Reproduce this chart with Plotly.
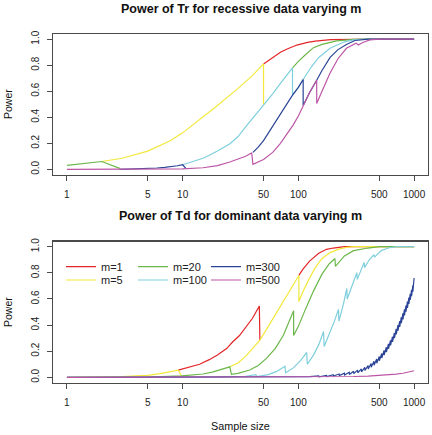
import plotly.graph_objects as go

# ---------------- data ----------------
legend_names = ["m=1", "m=5", "m=20", "m=100", "m=300", "m=500"]
line_colors = ["#E2262A", "#F3E83A", "#6CB74A", "#7ECFDC", "#2B4497", "#BD56A6"]

tick_vals_x = [1, 5, 10, 50, 100, 500, 1000]
tick_text_x = ["1", "5", "10", "50", "100", "500", "1000"]
tick_vals_y = [0.0, 0.2, 0.4, 0.6, 0.8, 1.0]
tick_text_y = ["0.0", "0.2", "0.4", "0.6", "0.8", "1.0"]

# Top panel: power of Tr, recessive data
tr_m1_x = [50, 60, 70, 80, 97, 120, 140, 190, 300, 500, 1000]
tr_m1_y = [0.81, 0.86, 0.90, 0.925, 0.955, 0.975, 0.985, 0.997, 1.0, 1.0, 1.0]
tr_m5_x = [2, 3, 5, 7.8, 10, 15, 20, 25.6, 30, 40, 50, 50]
tr_m5_y = [0.06, 0.085, 0.14, 0.22, 0.28, 0.40, 0.49, 0.57, 0.62, 0.72, 0.81, 0.50]
tr_m20_x = [1, 2, 2.9, None, 89, 100, 115, 135, 160, 214, 300, 400, 1000]
tr_m20_y = [0.03, 0.06, 0.005, None, 0.78, 0.83, 0.88, 0.935, 0.96, 0.987, 0.998, 1.0, 1.0]
tr_m100_x = [10, 12, 15, 17, 20, 25.6, 30, 36, 42, 50, 60, 70, 80, 89, 89, 100, 110,
             130, 150, 188, 250, 300, 400, 1000]
tr_m100_y = [0.035, 0.055, 0.085, 0.108, 0.14, 0.197, 0.25, 0.34, 0.41, 0.49, 0.58, 0.66,
             0.73, 0.78, 0.57, 0.63, 0.69, 0.79, 0.86, 0.93, 0.98, 0.995, 1.0, 1.0]
tr_m300_x = [2.9, 4, 5, 6, 7, 8, 9, 10, 10.7, None, 40.5, 45, 50, 60, 70, 80, 89, 100,
             110, 110, 125, 144, 160, 188, 220, 260, 308, 400, 1000]
tr_m300_y = [0.0, 0.003, 0.006, 0.01, 0.015, 0.02, 0.027, 0.035, 0.005, None, 0.13, 0.17,
             0.22, 0.33, 0.43, 0.51, 0.57, 0.63, 0.69, 0.49, 0.59, 0.685, 0.76, 0.86, 0.92,
             0.96, 0.99, 1.0, 1.0]
tr_m500_x = [1, 5, 10, 15, 20, 25.6, 30, 35, 39.5, 40.5, 50, 60, 70, 80, 90, 100, 110,
             125, 144, 144, 160, 188, 220, 260, 315, 330, 360, 415, 500, 1000]
tr_m500_y = [0.0, 0.0, 0.004, 0.012, 0.028, 0.056, 0.078, 0.10, 0.125, 0.038, 0.075, 0.13,
             0.20, 0.27, 0.34, 0.41, 0.49, 0.59, 0.685, 0.505, 0.60, 0.74, 0.85, 0.93, 0.97,
             0.955, 0.975, 0.995, 1.0, 1.0]

# Bottom panel: power of Td, dominant data
td_m1_x = [9.16, 12, 14, 17, 20, 24, 27, 31, 35, 40, 46, 46.5, None, 101, 110, 125, 150,
           175, 200, 250, 1000]
td_m1_y = [0.055, 0.08, 0.10, 0.135, 0.17, 0.22, 0.27, 0.32, 0.38, 0.45, 0.545, 0.285, None,
           0.78, 0.83, 0.89, 0.95, 0.98, 0.99, 1.0, 1.0]
td_m5_x = [1, 2, 3, 4, 5, 6.4, 8, 9.16, 9.8, None, 25.6, 30, 35, 40, 46.5, 55, 65, 75, 85,
           101, 101, 110, 125, 140, 160, 188, 220, 260, 300, 1000]
td_m5_y = [0.0, 0.002, 0.005, 0.01, 0.015, 0.028, 0.042, 0.055, 0.01, None, 0.08, 0.11,
           0.16, 0.22, 0.285, 0.39, 0.50, 0.59, 0.67, 0.78, 0.58, 0.66, 0.76, 0.84, 0.91,
           0.955, 0.98, 0.995, 1.0, 1.0]
td_m20_x = [1, 5, 9.8, 12, 15, 18, 21, 25.6, 26.4, 30, 38, 45, 53, 63, 74, 83, 91, 91,
            100, 115, 135, 160, 185, 207, 209, 250, 300, 400, 500, 1000]
td_m20_y = [0.0, 0.002, 0.01, 0.015, 0.025, 0.04, 0.055, 0.08, 0.023, 0.03, 0.056, 0.09,
            0.145, 0.22, 0.32, 0.42, 0.51, 0.32, 0.39, 0.52, 0.66, 0.79, 0.87, 0.91, 0.85,
            0.93, 0.97, 0.99, 1.0, 1.0]
td_m100_x = [1, 20, 35, 43, 43.5, 55, 65, 76.6, 77.5, 90, 105, 118, 119.5, 135, 150, 165,
             167, 185, 205, 222, 224, 245, 262, 264, 290, 320, 323, 345, 370, 373, 410,
             450, 455, 520, 600, 700, 1000]
td_m100_y = [0.0, 0.001, 0.008, 0.02, 0.005, 0.02, 0.045, 0.085, 0.035, 0.07, 0.13, 0.19,
             0.10, 0.17, 0.25, 0.35, 0.235, 0.33, 0.43, 0.52, 0.43, 0.56, 0.68, 0.60, 0.70,
             0.80, 0.75, 0.82, 0.88, 0.84, 0.90, 0.94, 0.92, 0.97, 0.99, 1.0, 1.0]
td_m300_x = [1, 60, 100, 125, 150, 151, 175, 176, 200, 201, 225, 226, 250, 251, 275, 276,
             300, 301, 325, 326, 350, 351, 375, 376, 400, 401, 425, 426, 450, 451, 475, 476,
             500, 501, 525, 526, 550, 551, 575, 576, 600, 601, 625, 626, 650, 651, 675, 676,
             700, 701, 725, 726, 750, 751, 775, 776, 800, 801, 825, 826, 850, 851, 875, 876,
             900, 901, 925, 926, 950, 951, 975, 976, 1000]
td_m300_y = [0.0, 0.0, 0.002, 0.005, 0.010, 0.004, 0.014, 0.006, 0.020, 0.010, 0.025, 0.013,
             0.032, 0.018, 0.038, 0.022, 0.046, 0.028, 0.055, 0.034, 0.064, 0.042, 0.076,
             0.052, 0.090, 0.064, 0.105, 0.077, 0.122, 0.092, 0.140, 0.108, 0.160, 0.127,
             0.182, 0.147, 0.205, 0.170, 0.230, 0.193, 0.256, 0.218, 0.283, 0.244, 0.311,
             0.271, 0.340, 0.299, 0.370, 0.328, 0.400, 0.357, 0.430, 0.386, 0.460, 0.415,
             0.490, 0.444, 0.520, 0.474, 0.550, 0.503, 0.580, 0.532, 0.610, 0.562, 0.640,
             0.592, 0.670, 0.622, 0.705, 0.655, 0.76]
td_m500_x = [1, 100, 200, 300, 400, 500, 600, 700, 800, 900, 1000]
td_m500_y = [0.0, 0.001, 0.003, 0.006, 0.009, 0.013, 0.018, 0.024, 0.031, 0.04, 0.05]

top_title = "Power of Tr for recessive data varying m"
bottom_title = "Power of Td for dominant data varying m"
y_label = "Power"
x_label = "Sample size"

# ---------------- layout geometry ----------------
W, H = 432, 435
ML, MR, MT, MB = 53, 4, 34, 52
PW, PH = W - ML - MR, H - MT - MB


def px_x(px):
    return (px - ML) / PW


def px_y(py):
    return (H - MB - py) / PH


FONT = "Liberation Sans, Arial, Helvetica, sans-serif"

fig = go.Figure()

top_series = [(tr_m1_x, tr_m1_y), (tr_m5_x, tr_m5_y), (tr_m20_x, tr_m20_y),
              (tr_m100_x, tr_m100_y), (tr_m300_x, tr_m300_y), (tr_m500_x, tr_m500_y)]
bottom_series = [(td_m1_x, td_m1_y), (td_m5_x, td_m5_y), (td_m20_x, td_m20_y),
                 (td_m100_x, td_m100_y), (td_m300_x, td_m300_y), (td_m500_x, td_m500_y)]

for i, (xs, ys) in enumerate(top_series):
    fig.add_trace(go.Scatter(x=xs, y=ys, mode="lines", name=legend_names[i],
                             line=dict(color=line_colors[i], width=1.2),
                             showlegend=False, xaxis="x", yaxis="y",
                             connectgaps=False, hoverinfo="skip"))

legend_ids = ["legend", "legend2", "legend3", "legend4", "legend5", "legend6"]
for i, (xs, ys) in enumerate(bottom_series):
    fig.add_trace(go.Scatter(x=xs, y=ys, mode="lines", name=legend_names[i],
                             line=dict(color=line_colors[i], width=1.2),
                             showlegend=True, legend=legend_ids[i],
                             xaxis="x2", yaxis="y2",
                             connectgaps=False, hoverinfo="skip"))

axis_common = dict(showline=True, mirror=True, linecolor="#4a4a4a", linewidth=1.3,
                   ticks="outside", ticklen=5, tickcolor="#4a4a4a", tickwidth=1,
                   showgrid=False, zeroline=False,
                   tickfont=dict(family=FONT, size=10, color="#222222"))

top_dom = [max(0.0, px_y(174.5)), 1.0]
bot_dom = [max(0.0, px_y(382.5)), px_y(241.5)]

fig.update_layout(
    width=W, height=H,
    margin=dict(l=ML, r=MR, t=MT, b=MB),
    paper_bgcolor="white", plot_bgcolor="white",
    font=dict(family=FONT, color="#222222"),
    xaxis=dict(type="log", range=[-0.12, 3.12], tickvals=tick_vals_x, ticktext=tick_text_x,
               domain=[0, 1], anchor="y", ticklabelstandoff=5, **axis_common),
    yaxis=dict(range=[-0.04, 1.04], tickvals=tick_vals_y, ticktext=tick_text_y,
               domain=top_dom, anchor="x", tickangle=-90, ticklabelstandoff=4, **axis_common),
    xaxis2=dict(type="log", range=[-0.12, 3.12], tickvals=tick_vals_x, ticktext=tick_text_x,
                domain=[0, 1], anchor="y2", ticklabelstandoff=5, **axis_common),
    yaxis2=dict(range=[-0.04, 1.04], tickvals=tick_vals_y, ticktext=tick_text_y,
                domain=bot_dom, anchor="x2", tickangle=-90, ticklabelstandoff=4, **axis_common),
)

# one small legend per series, placed as in the reference (3 columns x 2 rows)
leg_pos = [(61, 266.7), (61, 280.0), (133, 266.7), (133, 280.0), (206, 266.7), (206, 280.0)]
for lid, (lx, ly) in zip(legend_ids, leg_pos):
    fig.update_layout({lid: dict(x=px_x(lx), y=px_y(ly), xanchor="left", yanchor="middle",
                                 bgcolor="rgba(0,0,0,0)", borderwidth=0,
                                 font=dict(family=FONT, size=11, color="#222222"),
                                 itemwidth=30, tracegroupgap=0)})

ann = [
    dict(text="<b>" + top_title + "</b>", x=px_x(240.5), y=px_y(8.5), size=12.5, angle=0),
    dict(text="<b>" + bottom_title + "</b>", x=px_x(240.5), y=px_y(216.5), size=12.5, angle=0),
    dict(text=y_label, x=px_x(8), y=px_y(104), size=10.5, angle=-90),
    dict(text=y_label, x=px_x(8), y=px_y(312), size=10.5, angle=-90),
    dict(text=x_label, x=px_x(240.5), y=px_y(425.5), size=10.8, angle=0),
]
for a in ann:
    fig.add_annotation(text=a["text"], x=a["x"], y=a["y"], xref="paper", yref="paper",
                       xanchor="center", yanchor="middle", showarrow=False,
                       textangle=a["angle"],
                       font=dict(family=FONT, size=a["size"], color="#111111"))

fig.write_html("out.html",
               config=dict(displayModeBar=False, staticPlot=True),
               post_script="document.body.style.margin='0px';document.body.style.overflow='hidden';")
